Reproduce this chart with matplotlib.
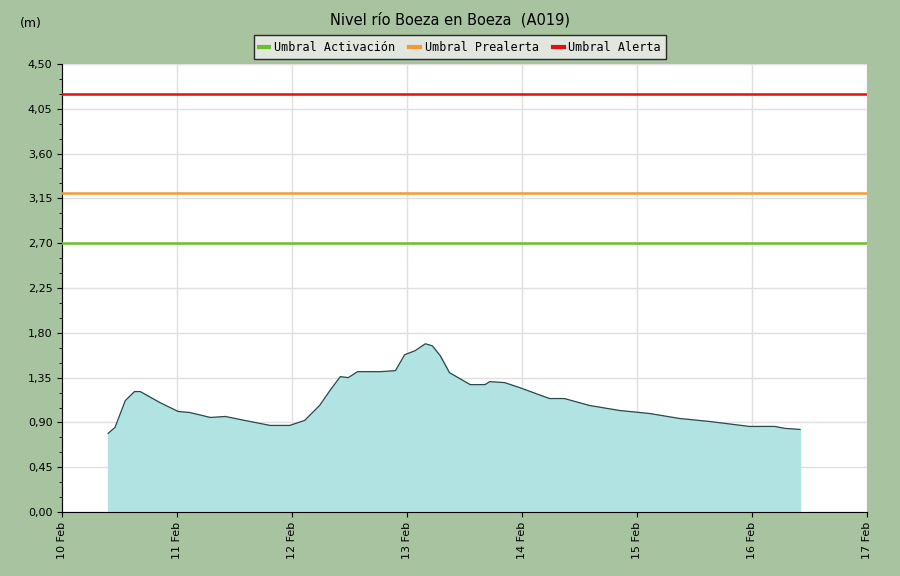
import numpy as np
import matplotlib.pyplot as plt
from matplotlib.lines import Line2D

# level readings: days since 10 Feb, metres
dias = [0.40, 0.46, 0.55, 0.63, 0.68, 0.85, 1.01, 1.11, 1.29, 1.42, 1.59, 1.81, 1.98, 2.11, 2.24, 2.33,
        2.42, 2.49, 2.57, 2.77, 2.90, 2.98, 3.07, 3.16, 3.22, 3.29, 3.37, 3.55, 3.68, 3.72, 3.85, 3.98,
        4.24, 4.37, 4.59, 4.85, 5.11, 5.37, 5.63, 5.98, 6.20, 6.29, 6.42]
nivel = [0.79, 0.85, 1.12, 1.21, 1.21, 1.10, 1.01, 1.00, 0.95, 0.96, 0.92, 0.87, 0.87, 0.92, 1.07, 1.22,
         1.36, 1.35, 1.41, 1.41, 1.42, 1.58, 1.62, 1.69, 1.67, 1.57, 1.40, 1.28, 1.28, 1.31, 1.30, 1.25,
         1.14, 1.14, 1.07, 1.02, 0.99, 0.94, 0.91, 0.86, 0.86, 0.84, 0.83]
umbrales = [2.70, 3.20, 4.20]
umbral_nombres = ['Umbral Activación', 'Umbral Prealerta', 'Umbral Alerta']
umbral_colores = ['#6cbf2a', '#f29b36', '#e01010']
xticks = ['10 Feb', '11 Feb', '12 Feb', '13 Feb', '14 Feb', '15 Feb', '16 Feb', '17 Feb']

bg = '#a8c3a0'
fig = plt.figure(figsize=(9, 5.76), dpi=100, facecolor=bg)
ax = fig.add_axes([0.069, 0.111, 0.894, 0.778])
ax.fill_between(dias, nivel, 0, color='#b2e3e3', zorder=2)
ax.plot(dias, nivel, color='#2a4a48', lw=0.9, zorder=3)
for u, c in zip(umbrales, umbral_colores):
    ax.axhline(u, color=c, lw=1.8, zorder=4)

ax.set_xlim(0, 7)
ax.set_ylim(0, 4.5)
ax.set_xticks(range(8))
ax.set_xticklabels(xticks, rotation=90, fontsize=8)
yt = np.arange(0, 4.51, 0.45)
ax.set_yticks(yt)
ax.set_yticklabels([('%.2f' % v).replace('.', ',') for v in yt], fontsize=8)
ax.set_yticks(np.arange(0, 4.5, 0.15), minor=True)
ax.grid(True, color='#e0e0e0', lw=1, zorder=1)
for s in ax.spines.values():
    s.set_visible(False)
ax.spines['left'].set_visible(True)
ax.spines['bottom'].set_visible(True)

fig.text(0.5, 0.965, 'Nivel río Boeza en Boeza  (A019)', ha='center', va='center', fontsize=10.5)
fig.text(0.022, 0.96, '(m)', fontsize=9, va='center')
handles = [Line2D([], [], color=c, lw=3) for c in umbral_colores]
leg = fig.legend(handles, umbral_nombres, loc='center', bbox_to_anchor=(0.511, 0.918), ncol=3,
                 prop={'family': 'DejaVu Sans Mono', 'size': 8.5}, frameon=True, fancybox=False,
                 handlelength=0.9, handletextpad=0.4, columnspacing=1.2, borderpad=0.45)
leg.get_frame().set_edgecolor('black')
leg.get_frame().set_facecolor('#f0f0f0')
fig.savefig('out.png', dpi=100, facecolor=bg)
